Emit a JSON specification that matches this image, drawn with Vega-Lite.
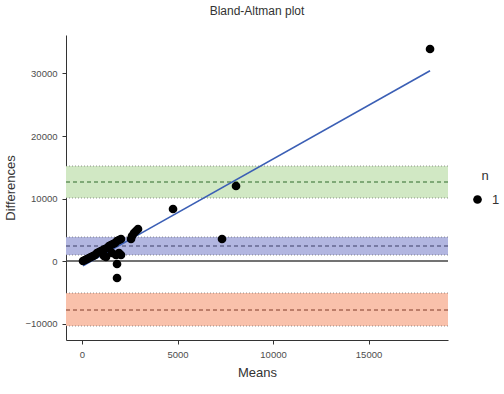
{
  "$schema": "https://vega.github.io/schema/vega-lite/v6.json",
  "width": 382,
  "height": 305,
  "autosize": {"type": "none"},
  "padding": {"left": 66, "top": 35, "right": 56, "bottom": 54},
  "background": "white",
  "title": {"text": "Bland-Altman plot", "fontSize": 12, "font": "Liberation Sans", "fontWeight": "normal", "color": "#333333", "offset": 17, "anchor": "middle"},
  "config": {
    "view": {"stroke": null},
    "axis": {"grid": false, "domainColor": "#333333", "domainWidth": 1, "tickColor": "#333333", "labelColor": "#4d4d4d", "labelFont": "Liberation Sans", "labelFontSize": 9.5, "titleFont": "Liberation Sans", "titleFontSize": 13, "titleFontWeight": "normal", "titleColor": "#333333", "tickSize": 4, "labelPadding": 5, "format": "d"},
    "axisX": {"titlePadding": 8},
    "axisY": {"titlePadding": 8}
  },
  "datasets": {
    "pts": [
      {"m": 52, "d": 0, "n": "1"},
      {"m": 157, "d": 160, "n": "1"},
      {"m": 262, "d": 320, "n": "1"},
      {"m": 367, "d": 480, "n": "1"},
      {"m": 471, "d": 640, "n": "1"},
      {"m": 576, "d": 800, "n": "1"},
      {"m": 681, "d": 960, "n": "1"},
      {"m": 785, "d": 1280, "n": "1"},
      {"m": 890, "d": 1440, "n": "1"},
      {"m": 995, "d": 1600, "n": "1"},
      {"m": 1100, "d": 1760, "n": "1"},
      {"m": 1204, "d": 1920, "n": "1"},
      {"m": 1309, "d": 2080, "n": "1"},
      {"m": 1414, "d": 2400, "n": "1"},
      {"m": 1518, "d": 2560, "n": "1"},
      {"m": 1623, "d": 2720, "n": "1"},
      {"m": 1728, "d": 2880, "n": "1"},
      {"m": 1833, "d": 3200, "n": "1"},
      {"m": 1937, "d": 3360, "n": "1"},
      {"m": 2042, "d": 3520, "n": "1"},
      {"m": 1152, "d": 800, "n": "1"},
      {"m": 1257, "d": 640, "n": "1"},
      {"m": 1571, "d": 1280, "n": "1"},
      {"m": 1780, "d": 960, "n": "1"},
      {"m": 1937, "d": 1280, "n": "1"},
      {"m": 2042, "d": 960, "n": "1"},
      {"m": 1833, "d": -480, "n": "1"},
      {"m": 1833, "d": -2720, "n": "1"},
      {"m": 2566, "d": 3520, "n": "1"},
      {"m": 2618, "d": 4000, "n": "1"},
      {"m": 2723, "d": 4480, "n": "1"},
      {"m": 2828, "d": 4800, "n": "1"},
      {"m": 2932, "d": 5120, "n": "1"},
      {"m": 4765, "d": 8320, "n": "1"},
      {"m": 7330, "d": 3520, "n": "1"},
      {"m": 8063, "d": 12000, "n": "1"},
      {"m": 18220, "d": 33920, "n": "1"}
    ],
    "bands": [
      {"band": "upper", "lo": 10080, "hi": 15200, "mid": 12640},
      {"band": "mean", "lo": 960, "hi": 3840, "mid": 2400},
      {"band": "lower", "lo": -10400, "hi": -5120, "mid": -7840}
    ]
  },
  "layer": [
    {
      "data": {"name": "bands"},
      "mark": {"type": "rect", "opacity": 1},
      "encoding": {
        "y": {"field": "lo", "type": "quantitative", "scale": {"domain": [-12640, 36160], "nice": false, "zero": false}, "axis": {"values": [-10000, 0, 10000, 20000, 30000], "title": "Differences"}},
        "y2": {"field": "hi"},
        "fill": {"field": "band", "type": "nominal", "scale": {"domain": ["upper", "mean", "lower"], "range": ["#d1e8c4", "#b2b6e0", "#f9c1ab"]}, "legend": null}
      }
    },
    {
      "data": {"name": "bands"},
      "transform": [{"fold": ["lo", "hi"], "as": ["edge", "val"]}],
      "mark": {"type": "rule", "strokeDash": [1, 2], "strokeWidth": 1, "color": "#555555", "opacity": 0.6},
      "encoding": {
        "y": {"field": "val", "type": "quantitative"}
      }
    },
    {
      "data": {"name": "bands"},
      "transform": [{"filter": "datum.band === 'upper'"}],
      "mark": {"type": "rule", "strokeDash": [4, 3], "strokeWidth": 1, "color": "#2f6a2a"},
      "encoding": {"y": {"field": "mid", "type": "quantitative"}}
    },
    {
      "data": {"name": "bands"},
      "transform": [{"filter": "datum.band === 'mean'"}],
      "mark": {"type": "rule", "strokeDash": [4, 3], "strokeWidth": 1, "color": "#3c3f66"},
      "encoding": {"y": {"field": "mid", "type": "quantitative"}}
    },
    {
      "data": {"name": "bands"},
      "transform": [{"filter": "datum.band === 'lower'"}],
      "mark": {"type": "rule", "strokeDash": [4, 3], "strokeWidth": 1, "color": "#7f3a28"},
      "encoding": {"y": {"field": "mid", "type": "quantitative"}}
    },
    {
      "data": {"values": [{"z": 0}]},
      "mark": {"type": "rule", "color": "#444444", "strokeWidth": 1.3},
      "encoding": {"y": {"field": "z", "type": "quantitative"}}
    },
    {
      "data": {"name": "pts"},
      "transform": [{"regression": "d", "on": "m"}],
      "mark": {"type": "line", "color": "#3b5fb5", "strokeWidth": 1.6},
      "encoding": {
        "x": {"field": "m", "type": "quantitative"},
        "y": {"field": "d", "type": "quantitative"}
      }
    },
    {
      "data": {"name": "pts"},
      "mark": {"type": "point", "filled": true, "opacity": 1, "size": 75},
      "encoding": {
        "x": {"field": "m", "type": "quantitative", "scale": {"domain": [-838, 19160], "nice": false, "zero": false}, "axis": {"values": [0, 5000, 10000, 15000], "title": "Means"}},
        "y": {"field": "d", "type": "quantitative"},
        "color": {"field": "n", "type": "nominal", "scale": {"range": ["black"]}, "legend": {"title": "n", "orient": "none", "legendX": 405, "legendY": 135, "titleAnchor": "middle", "titleFont": "Liberation Sans", "titleFontSize": 13, "titleFontWeight": "normal", "titleColor": "#333333", "labelFont": "Liberation Sans", "labelFontSize": 13, "labelColor": "#333333", "labelOffset": 8, "symbolSize": 75, "titlePadding": 10}}
      }
    }
  ]
}
